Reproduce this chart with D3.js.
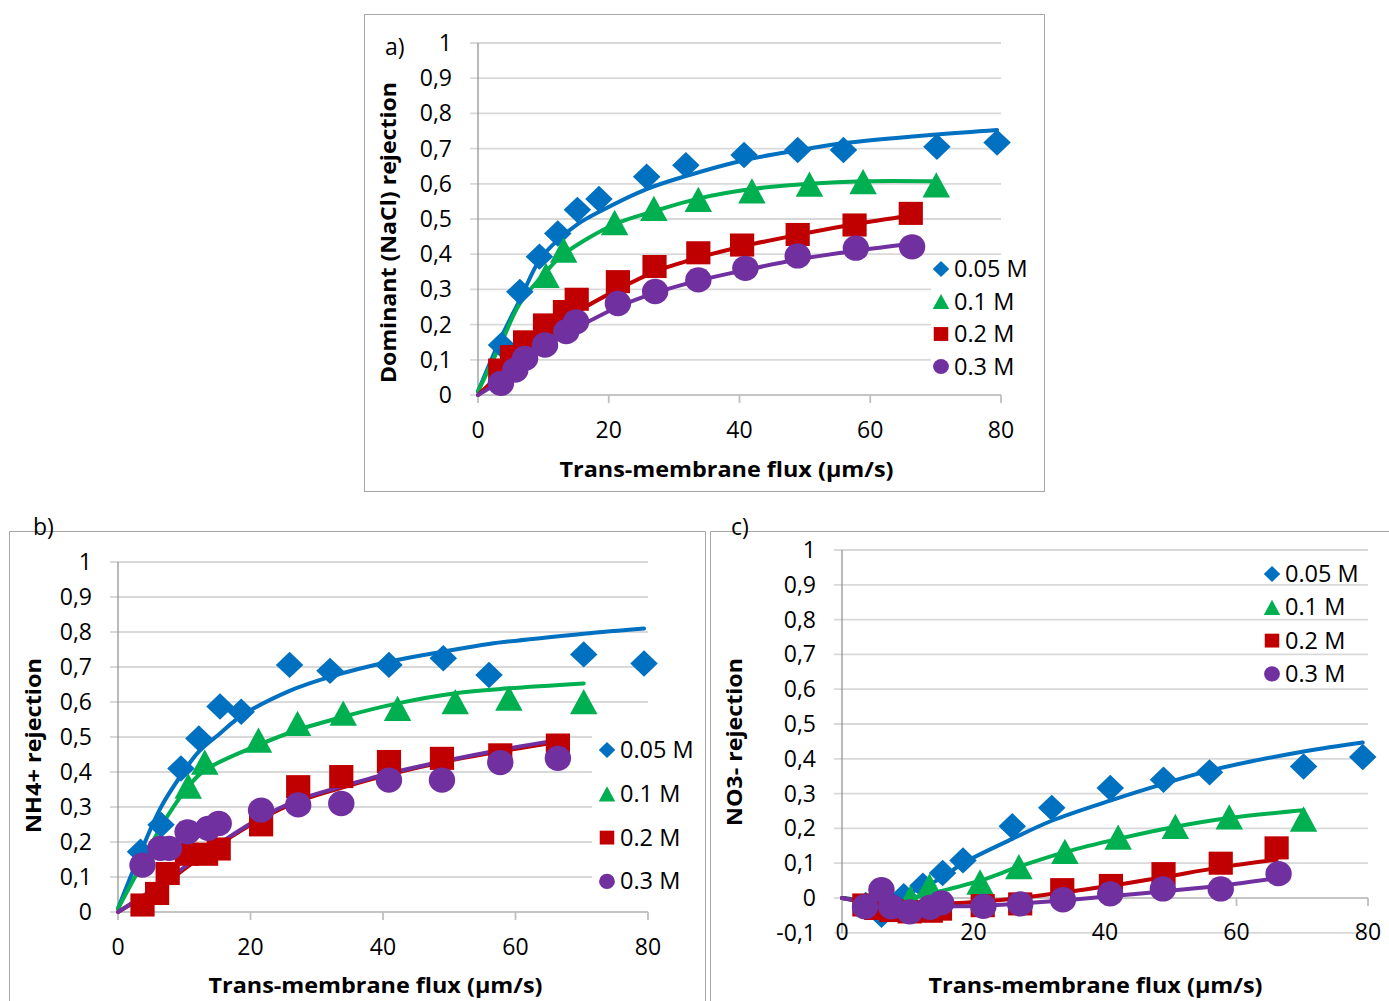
<!DOCTYPE html>
<html><head><meta charset="utf-8">
<script src="https://cdn.jsdelivr.net/npm/d3@7"></script>
<style>body{margin:0;background:#fff;} svg{display:block;} text{font-family:"Open Sans",sans-serif;fill:#000;}</style>
</head><body><svg id="chart" width="1389" height="1001"></svg>
<script>
// ---------- shared ----------
const seriesNames = ["0.05 M", "0.1 M", "0.2 M", "0.3 M"];
const seriesColors = ["#0070C0", "#00B050", "#C00000", "#7030A0"];
const seriesShapes = ["diamond", "triangle", "square", "circle"];
const xTickValues = [0, 20, 40, 60, 80];
const yTickValuesAB = [0, 0.1, 0.2, 0.3, 0.4, 0.5, 0.6, 0.7, 0.8, 0.9, 1];
const yTickValuesC = [-0.1, 0, 0.1, 0.2, 0.3, 0.4, 0.5, 0.6, 0.7, 0.8, 0.9, 1];
const xTitle = "Trans-membrane flux (µm/s)";
const yTitles = ["Dominant (NaCl) rejection", "NH4+ rejection", "NO3- rejection"];
const panelLabels = ["a)", "b)", "c)"];

// ---------- panel a : NaCl ----------
const a005Flux = [3.6, 6.4, 9.4, 12.2, 15.2, 18.5, 25.8, 31.8, 40.7, 48.9, 55.9, 70.2, 79.4];
const a005Rej  = [0.142, 0.293, 0.393, 0.459, 0.526, 0.557, 0.62, 0.653, 0.682, 0.696, 0.696, 0.705, 0.717];
const a005FitFlux = [0, 3.6, 6.4, 9.4, 12.2, 15.2, 18.5, 25.8, 31.8, 40.7, 48.9, 55.9, 70.2, 79.4];
const a005FitRej  = [0.01, 0.166, 0.27, 0.383, 0.44, 0.485, 0.52, 0.585, 0.622, 0.667, 0.695, 0.715, 0.74, 0.753];
const a01Flux = [10.4, 13.1, 20.9, 26.9, 33.7, 41.9, 50.7, 58.9, 70.1];
const a01Rej  = [0.34, 0.412, 0.49, 0.53, 0.556, 0.58, 0.599, 0.606, 0.597];
const a01FitFlux = [0, 3.6, 6.4, 10.4, 13.1, 20.9, 26.9, 33.7, 41.9, 50.7, 58.9, 70.1];
const a01FitRej  = [0.01, 0.15, 0.26, 0.35, 0.40, 0.485, 0.522, 0.558, 0.585, 0.60, 0.607, 0.607];
const a02Flux = [3.4, 5.2, 7.2, 10.25, 13.3, 15.1, 21.4, 27.0, 33.7, 40.4, 48.9, 57.6, 66.2];
const a02Rej  = [0.071, 0.109, 0.151, 0.199, 0.237, 0.272, 0.322, 0.365, 0.404, 0.426, 0.456, 0.483, 0.516];
const a02FitFlux = [0, 3.4, 5.2, 7.2, 10.25, 13.3, 15.1, 21.4, 27.0, 33.7, 40.4, 48.9, 57.6, 66.2];
const a02FitRej  = [0, 0.06, 0.09, 0.12, 0.17, 0.21, 0.235, 0.30, 0.35, 0.39, 0.422, 0.455, 0.485, 0.51];
const a03Flux = [3.5, 5.7, 7.2, 10.25, 13.5, 15.0, 21.4, 27.1, 33.7, 40.9, 48.9, 57.8, 66.4];
const a03Rej  = [0.033, 0.071, 0.104, 0.142, 0.18, 0.208, 0.26, 0.294, 0.327, 0.36, 0.395, 0.417, 0.421];
const a03FitFlux = [0, 3.5, 5.7, 7.2, 10.25, 13.5, 15.0, 21.4, 27.1, 33.7, 40.9, 48.9, 57.8, 66.4];
const a03FitRej  = [0, 0.04, 0.07, 0.095, 0.135, 0.175, 0.19, 0.25, 0.29, 0.325, 0.355, 0.385, 0.41, 0.43];

// ---------- panel b : NH4+ ----------
const b005Flux = [3.4, 6.5, 9.5, 12.2, 15.4, 18.6, 25.9, 32.0, 40.9, 49.1, 56.0, 70.3, 79.4];
const b005Rej  = [0.172, 0.249, 0.41, 0.496, 0.587, 0.572, 0.706, 0.689, 0.706, 0.725, 0.677, 0.736, 0.71];
const b005FitFlux = [0, 3.4, 6.5, 9.5, 12.2, 15.4, 18.6, 25.9, 32.0, 40.9, 49.1, 56.0, 70.3, 79.4];
const b005FitRej  = [0.01, 0.17, 0.30, 0.39, 0.458, 0.51, 0.56, 0.632, 0.672, 0.715, 0.744, 0.766, 0.795, 0.81];
const b01Flux = [10.6, 13.1, 21.2, 27.1, 34.0, 42.2, 50.9, 59.0, 70.3];
const b01Rej  = [0.36, 0.428, 0.491, 0.539, 0.568, 0.582, 0.601, 0.611, 0.601];
const b01FitFlux = [0, 3.4, 6.5, 10.6, 13.1, 21.2, 27.1, 34.0, 42.2, 50.9, 59.0, 70.3];
const b01FitRej  = [0.01, 0.13, 0.244, 0.358, 0.405, 0.477, 0.52, 0.558, 0.596, 0.625, 0.639, 0.653];
const b02Flux = [3.7, 5.9, 7.5, 10.4, 13.3, 15.2, 21.6, 27.2, 33.7, 40.9, 48.9, 57.7, 66.4];
const b02Rej  = [0.02, 0.053, 0.11, 0.165, 0.165, 0.18, 0.249, 0.358, 0.387, 0.43, 0.439, 0.449, 0.477];
const b02FitFlux = [0, 3.7, 5.9, 7.5, 10.4, 13.3, 15.2, 21.6, 27.2, 33.7, 40.9, 48.9, 57.7, 66.4];
const b02FitRej  = [0, 0.042, 0.068, 0.088, 0.128, 0.168, 0.192, 0.266, 0.316, 0.355, 0.393, 0.428, 0.459, 0.486];
const b03Flux = [3.7, 6.4, 7.7, 10.5, 13.6, 15.2, 21.6, 27.2, 33.7, 40.9, 48.9, 57.7, 66.4];
const b03Rej  = [0.134, 0.182, 0.182, 0.229, 0.239, 0.253, 0.291, 0.306, 0.31, 0.377, 0.377, 0.427, 0.439];
const b03FitFlux = [0, 3.7, 6.4, 7.7, 10.5, 13.6, 15.2, 21.6, 27.2, 33.7, 40.9, 48.9, 57.7, 66.4];
const b03FitRej  = [0, 0.045, 0.08, 0.095, 0.135, 0.175, 0.195, 0.27, 0.32, 0.358, 0.396, 0.43, 0.463, 0.491];

// ---------- panel c : NO3- ----------
const c005Flux = [3.6, 6.0, 9.4, 12.3, 15.3, 18.4, 25.9, 31.9, 40.8, 48.9, 55.9, 70.2, 79.2];
const c005Rej  = [-0.02, -0.048, 0.005, 0.035, 0.072, 0.108, 0.206, 0.259, 0.316, 0.34, 0.361, 0.378, 0.405];
const c005FitFlux = [0, 3.6, 6.0, 9.4, 12.3, 15.3, 18.4, 25.9, 31.9, 40.8, 48.9, 55.9, 70.2, 79.2];
const c005FitRej  = [0, -0.005, 0.0, 0.012, 0.03, 0.06, 0.1, 0.17, 0.222, 0.28, 0.328, 0.366, 0.421, 0.447];
const c01Flux = [10.4, 13.3, 21.0, 26.9, 33.9, 42.0, 50.7, 58.9, 70.2];
const c01Rej  = [0.0, 0.035, 0.046, 0.09, 0.134, 0.175, 0.206, 0.233, 0.227];
const c01FitFlux = [0, 3.6, 6.4, 10.4, 13.3, 21.0, 26.9, 33.9, 42.0, 50.7, 58.9, 70.2];
const c01FitRej  = [0, -0.008, -0.01, 0.0, 0.012, 0.05, 0.09, 0.132, 0.17, 0.205, 0.23, 0.252];
const c02Flux = [3.4, 5.2, 7.5, 10.3, 13.5, 14.9, 21.4, 27.1, 33.5, 40.9, 48.9, 57.6, 66.1];
const c02Rej  = [-0.02, -0.03, -0.036, -0.04, -0.038, -0.032, -0.022, -0.017, 0.024, 0.036, 0.07, 0.10, 0.144];
const c02FitFlux = [0, 3.4, 5.2, 7.5, 10.3, 13.5, 14.9, 21.4, 27.1, 33.5, 40.9, 48.9, 57.6, 66.1];
const c02FitRej  = [0, -0.012, -0.018, -0.02, -0.02, -0.018, -0.017, -0.01, 0.0, 0.016, 0.035, 0.06, 0.088, 0.11];
const c03Flux = [3.5, 6.0, 7.5, 10.3, 13.4, 15.1, 21.5, 27.1, 33.6, 40.8, 48.8, 57.6, 66.4];
const c03Rej  = [-0.025, 0.024, -0.025, -0.04, -0.027, -0.014, -0.024, -0.017, -0.005, 0.012, 0.026, 0.026, 0.07];
const c03FitFlux = [0, 3.5, 6.0, 7.5, 10.3, 13.4, 15.1, 21.5, 27.1, 33.6, 40.8, 48.8, 57.6, 66.4];
const c03FitRej  = [0, -0.012, -0.018, -0.02, -0.023, -0.024, -0.024, -0.022, -0.016, -0.007, 0.005, 0.019, 0.035, 0.058];

// ---------- drawing ----------
const svg = d3.select("#chart");
const fmt = d => {
  const s = d3.format(".1f")(d).replace("\u2212", "-");
  if (s === "0.0") return "0";
  if (s === "1.0") return "1";
  return s.replace(".", ",");
};

function shapePath(shape, k) {
  const w = 12.5 * k, h = 11.5 * k;
  if (shape === "diamond") return `M0,${-h - 0.5 * k}L${w},0L0,${h + 0.5 * k}L${-w},0Z`;
  if (shape === "triangle") return `M0,${-h}L${w},${h}L${-w},${h}Z`;
  if (shape === "square") { const s = 11 * k, t = 10.5 * k; return `M${-s},${-t}H${s}V${t}H${-s}Z`; }
  return null;
}
function drawMarker(g, shape, color, cx, cy, k) {
  if (shape === "circle") {
    g.append("ellipse").attr("cx", cx).attr("cy", cy).attr("rx", 12 * k).attr("ry", 11.5 * k).attr("fill", color);
  } else {
    g.append("path").attr("d", shapePath(shape, k)).attr("transform", `translate(${cx},${cy})`).attr("fill", color);
  }
}

const panels = [
  { x0: 478, x1: 1001, yTop: 43, yBot: 395, yDomain: [0, 1], yTicks: yTickValuesAB, xLabelY: 438,
    series: [[a005Flux, a005Rej, a005FitFlux, a005FitRej], [a01Flux, a01Rej, a01FitFlux, a01FitRej],
             [a02Flux, a02Rej, a02FitFlux, a02FitRej], [a03Flux, a03Rej, a03FitFlux, a03FitRej]],
    legend: { x: 941, y: 269, dy: 32.5, box: [931, 258, 104, 125] },
    xTitleX: 726.5, xTitleY: 477, yTitleX: 396, yTitleY: 232.5, yTitleLen: 301,
    label: [385, 55] },
  { x0: 118, x1: 648, yTop: 562, yBot: 912, yDomain: [0, 1], yTicks: yTickValuesAB, xLabelY: 955,
    series: [[b005Flux, b005Rej, b005FitFlux, b005FitRej], [b01Flux, b01Rej, b01FitFlux, b01FitRej],
             [b02Flux, b02Rej, b02FitFlux, b02FitRej], [b03Flux, b03Rej, b03FitFlux, b03FitRej]],
    legend: { x: 607, y: 750, dy: 43.8, box: [592, 727, 110, 172] },
    xTitleX: 375.5, xTitleY: 993, yTitleX: 41, yTitleY: 745.5, yTitleLen: 175,
    label: [33, 535] },
  { x0: 842, x1: 1368, yTop: 550, yBot: 932.8, yDomain: [-0.1, 1], yTicks: yTickValuesC, xLabelY: 940,
    series: [[c005Flux, c005Rej, c005FitFlux, c005FitRej], [c01Flux, c01Rej, c01FitFlux, c01FitRej],
             [c02Flux, c02Rej, c02FitFlux, c02FitRej], [c03Flux, c03Rej, c03FitFlux, c03FitRej]],
    legend: { x: 1272, y: 574, dy: 33.3, box: null },
    xTitleX: 1095.5, xTitleY: 993, yTitleX: 742, yTitleY: 742, yTitleLen: 168,
    label: [731, 535] }
];

// panel frames
svg.append("rect").attr("x", 364.5).attr("y", 14.5).attr("width", 680).attr("height", 477)
  .attr("fill", "none").attr("stroke", "#A6A6A6").attr("stroke-width", 1);
svg.append("path").attr("d", "M9.5,1010V531.5H705.5V1010").attr("fill", "none").attr("stroke", "#A6A6A6");
svg.append("path").attr("d", "M710.5,1010V531.5H1395").attr("fill", "none").attr("stroke", "#A6A6A6");

panels.forEach((p, pi) => {
  const x = d3.scaleLinear().domain([0, 80]).range([p.x0, p.x1]);
  const y = d3.scaleLinear().domain(p.yDomain).range([p.yBot, p.yTop]);
  const g = svg.append("g");

  // gridlines (incl. left tick stubs)
  p.yTicks.filter(v => v !== 0).forEach(v => {
    g.append("line").attr("x1", p.x0 - 8).attr("x2", p.x1).attr("y1", y(v)).attr("y2", y(v))
      .attr("stroke", "#D9D9D9").attr("stroke-width", 1.8);
  });
  g.append("line").attr("x1", p.x0 - 8).attr("x2", p.x0).attr("y1", y(0)).attr("y2", y(0))
    .attr("stroke", "#D9D9D9").attr("stroke-width", 1.8);

  // axis lines
  g.append("line").attr("x1", p.x0).attr("x2", p.x0).attr("y1", p.yTop).attr("y2", p.yBot)
    .attr("stroke", "#8C8C8C").attr("stroke-width", 1.2);
  g.append("line").attr("x1", p.x0).attr("x2", p.x1).attr("y1", y(0)).attr("y2", y(0))
    .attr("stroke", "#8C8C8C").attr("stroke-width", 1.2);
  xTickValues.forEach(v => {
    g.append("line").attr("x1", x(v)).attr("x2", x(v)).attr("y1", y(0)).attr("y2", y(0) + 8)
      .attr("stroke", "#BFBFBF").attr("stroke-width", 1.8);
  });

  // tick labels
  p.yTicks.forEach(v => {
    g.append("text").attr("x", p.x0 - 26).attr("y", y(v) + 8).attr("text-anchor", "end")
      .attr("font-size", 23).text(fmt(v));
  });
  xTickValues.forEach(v => {
    g.append("text").attr("x", x(v)).attr("y", p.xLabelY).attr("text-anchor", "middle")
      .attr("font-size", 23).text(v);
  });

  // titles
  g.append("text").attr("x", p.xTitleX).attr("y", p.xTitleY).attr("text-anchor", "middle")
    .attr("font-size", 21.5).attr("font-weight", "bold")
    .attr("textLength", 334).attr("lengthAdjust", "spacingAndGlyphs").text(xTitle);
  g.append("text").attr("transform", `translate(${p.yTitleX},${p.yTitleY}) rotate(-90)`)
    .attr("text-anchor", "middle").attr("font-size", 21.5).attr("font-weight", "bold")
    .attr("textLength", p.yTitleLen).attr("lengthAdjust", "spacingAndGlyphs").text(yTitles[pi]);
  g.append("text").attr("x", p.label[0]).attr("y", p.label[1]).attr("font-size", 23).text(panelLabels[pi]);

  // legend background
  if (p.legend.box) {
    const b = p.legend.box;
    g.append("rect").attr("x", b[0]).attr("y", b[1]).attr("width", b[2]).attr("height", b[3]).attr("fill", "#fff");
  }

  // fitted lines
  const line = d3.line().x(d => x(d[0])).y(d => y(d[1])).curve(d3.curveCatmullRom.alpha(0.5));
  p.series.forEach((s, si) => {
    const pts = s[2].map((fx, i) => [fx, s[3][i]]);
    g.append("path").attr("d", line(pts)).attr("fill", "none").attr("stroke", seriesColors[si])
      .attr("stroke-width", 4).attr("stroke-linejoin", "round").attr("stroke-linecap", "round");
  });
  // markers
  p.series.forEach((s, si) => {
    s[0].forEach((fx, i) => drawMarker(g, seriesShapes[si], seriesColors[si], x(fx), y(s[1][i]), 1.1));
  });

  // legend
  seriesNames.forEach((name, si) => {
    const ly = p.legend.y + si * p.legend.dy;
    drawMarker(g, seriesShapes[si], seriesColors[si], p.legend.x, ly, 0.66);
    g.append("text").attr("x", p.legend.x + 13).attr("y", ly + 8).attr("font-size", 23.5).text(name);
  });
});
</script></body></html>
